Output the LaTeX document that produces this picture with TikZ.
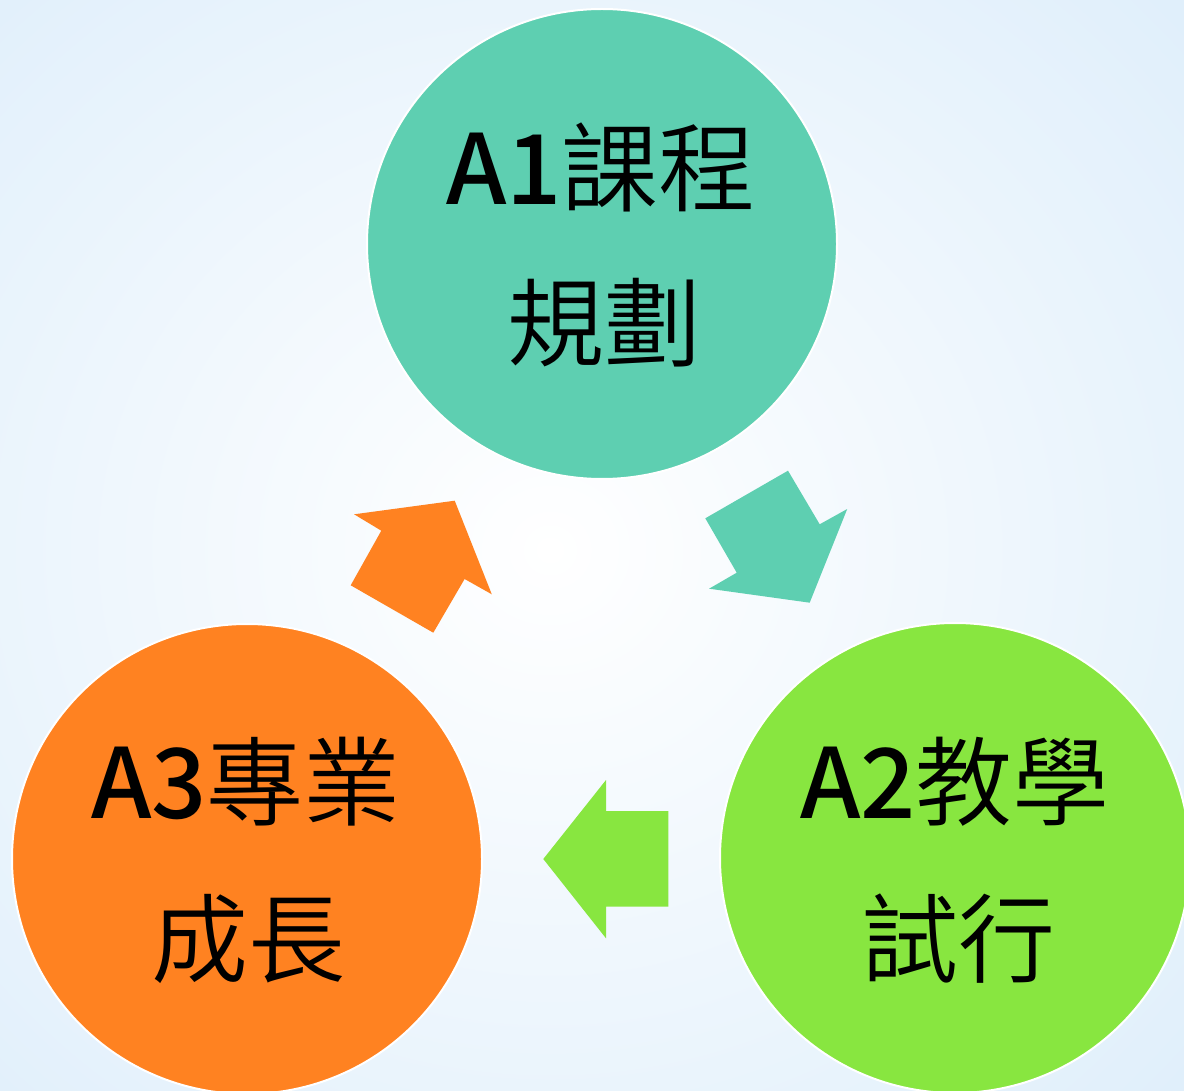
\documentclass[tikz,border=0pt]{standalone}
\usepackage{fontspec}
\setmainfont{Noto Sans CJK TC DemiLight}
\newfontfamily\latf{Noto Sans CJK TC Medium}
\usetikzlibrary{shapes.geometric}
\definecolor{cteal}{RGB}{94,207,177}
\definecolor{corange}{RGB}{255,130,33}
\definecolor{cgreen}{RGB}{136,230,64}
\definecolor{bgblue}{RGB}{224,239,251}
\definecolor{bgband}{RGB}{214,233,250}
\tikzset{
  disc/.style={circle, minimum size=470pt, inner sep=0pt, draw=white, line width=2pt},
  lbl/.style={anchor=base, inner sep=0pt, font=\fontsize{97}{97}\selectfont, text=black}
}
\begin{document}
\begin{tikzpicture}[x=1pt,y=-1pt]
\useasboundingbox (0,0) rectangle (1184,1091);
\clip (0,0) rectangle (1184,1091);
% background
\fill[bgblue] (0,0) rectangle (1184,1091);
\shade[top color=bgblue!0!white, bottom color=bgband, middle color=bgband] (0,640) rectangle (1184,900);
\shade[inner color=white, outer color=bgblue] (-300,-250) rectangle (1400,1350);
% circles
\node[disc, fill=cteal]   (c1) at (602,244) {};
\node[disc, fill=cgreen]  (c2) at (955,858) {};
\node[disc, fill=corange] (c3) at (247,859) {};
% texts
\node[lbl] (t1a) at (601,205) {{\latf A1}課程};
\node[lbl] (t1b) at (604,360) {規劃};
\node[lbl] (t2a) at (955,818) {{\latf A2}教學};
\node[lbl] (t2b) at (958,975) {試行};
\node[lbl] (t3a) at (246,818) {{\latf A3}專業};
\node[lbl] (t3b) at (248,975) {成長};
% block arrows
\fill[cteal] (705.3,518.3) -- (788,470.7) -- (819.7,524.3) -- (847.2,509) -- (809.7,602.7) -- (709.1,588.7) -- (736.7,572.7) -- cycle;
\fill[cgreen] (668.3,811) -- (606,811) -- (606,780) -- (543.3,859) -- (606,938.3) -- (606,906.7) -- (668.3,906.7) -- cycle;
\fill[corange] (350.7,585.3) -- (433.3,632.7) -- (464.6,579) -- (491.8,594.3) -- (454.7,500.7) -- (354.1,514.3) -- (381.3,530.7) -- cycle;
\end{tikzpicture}
\end{document}
